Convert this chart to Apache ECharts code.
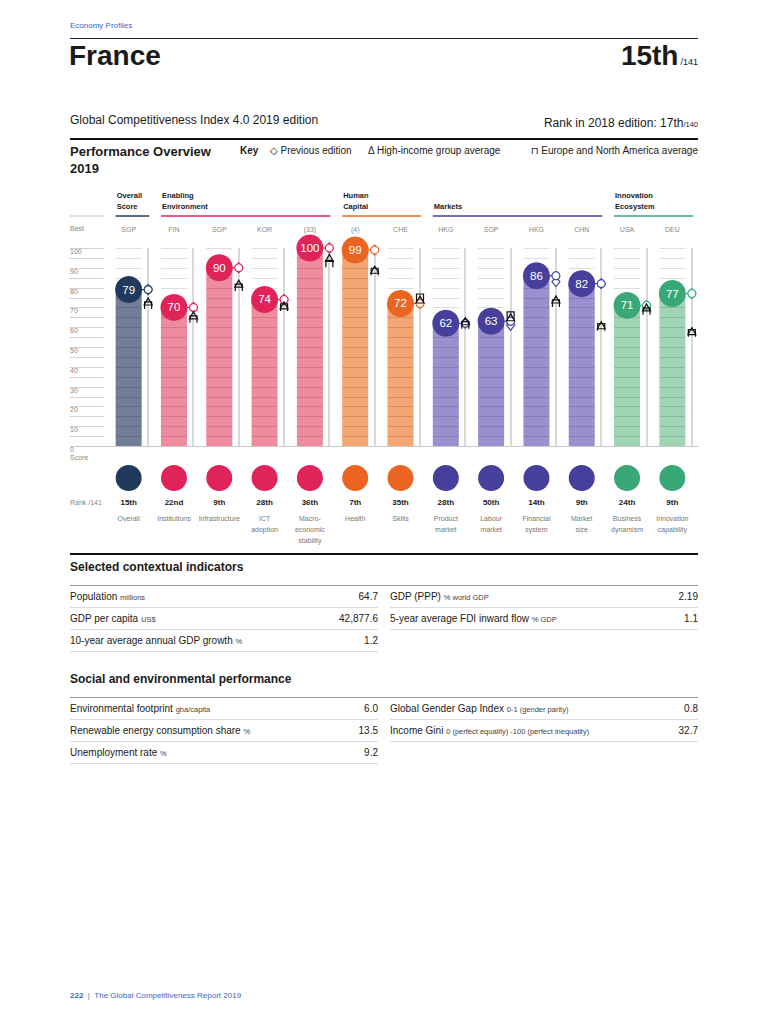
<!DOCTYPE html>
<html>
<head>
<meta charset="utf-8">
<script src="https://cdn.jsdelivr.net/npm/echarts@6/dist/echarts.min.js"></script>
<style>
  body { margin: 0; background: #fff; }
  #page { position: relative; width: 768px; height: 1024px; overflow: hidden;
          font-family: 'Liberation Sans', Arial, 'DejaVu Sans', sans-serif; color: #1a1a1a; }
  .a { position: absolute; white-space: nowrap; }
  .hr { position: absolute; left: 70px; width: 628px; }
  .small { font-size: 7px; color: #888; line-height: 8px; }
  .row { position: absolute; width: 308px; height: 21px; line-height: 21px; font-size: 10px;
         border-bottom: 1px solid #d5dde9; }
  .row .u { font-size: 7.5px; color: #444; }
  .row .v { position: absolute; right: 0; top: 0; }
</style>
</head>
<body>
<div id="page">
  <div class="a" style="left:70px;top:21px;font-size:8px;color:#3d68c2">Economy Profiles</div>
  <div class="hr" style="top:38px;height:1px;background:#222"></div>
  <div class="a" style="left:69px;top:40px;font-size:28px;font-weight:bold;line-height:32px">France</div>
  <div class="a" style="right:70px;top:40px;line-height:32px"><span style="font-size:28px;font-weight:bold">15th</span><span style="font-size:9px;margin-left:2px">/141</span></div>
  <div class="a" style="left:70px;top:113px;font-size:12px;line-height:14px">Global Competitiveness Index 4.0 2019 edition</div>
  <div class="a" style="right:70px;top:116px;font-size:12px;line-height:14px">Rank in 2018 edition: 17th<span style="font-size:7.5px">/140</span></div>
  <div class="hr" style="top:138px;height:2px;background:#111"></div>
  <div class="a" style="left:70px;top:143px;font-size:13px;font-weight:bold;line-height:17px">Performance Overview<br>2019</div>
  <div class="a" style="left:240px;top:146px;font-size:10px;line-height:10px;font-weight:bold">Key</div>
  <div class="a" style="left:270px;top:146px;font-size:10px;line-height:10px">◇ Previous edition</div>
  <div class="a" style="left:368px;top:146px;font-size:10px;line-height:10px">Δ High-income group average</div>
  <div class="a" style="right:70px;top:146px;font-size:10px;line-height:10px">⊓ Europe and North America average</div>

  <div id="chart" class="a" style="left:0;top:180px;width:768px;height:380px"></div>
  <div class="a small" style="left:70px;top:225px">Best</div>
  <div class="a small" style="left:70px;top:454px">Score</div>
  <div class="a small" style="left:70px;top:499px">Rank /141</div>

  <div class="hr" style="top:553px;height:2px;background:#111"></div>
  <div class="a" style="left:70px;top:560px;font-size:12px;font-weight:bold;line-height:14px">Selected contextual indicators</div>
  <div class="hr" style="top:585px;height:1px;background:#9a9a9a"></div>
  <div class="a" style="left:70px;top:672px;font-size:12px;font-weight:bold;line-height:14px">Social and environmental performance</div>
  <div class="hr" style="top:697px;height:1px;background:#9a9a9a"></div>

  <div class="a" style="left:70px;top:991px;font-size:8px;line-height:10px;color:#3d68c2"><b>222</b>&nbsp; | &nbsp;The Global Competitiveness Report 2019</div>
</div>

<script>
// pillars, left to right
const pillars = ['Overall', 'Institutions', 'Infrastructure', 'ICT\nadoption', 'Macro-\neconomic\nstability',
  'Health', 'Skills', 'Product\nmarket', 'Labour\nmarket', 'Financial\nsystem', 'Market\nsize',
  'Business\ndynamism', 'Innovation\ncapability'];
const bestIn = ['SGP', 'FIN', 'SGP', 'KOR', '(33)', '(4)', 'CHE', 'HKG', 'SGP', 'HKG', 'CHN', 'USA', 'DEU'];
const ranks = ['15th', '22nd', '9th', '28th', '36th', '7th', '35th', '28th', '50th', '14th', '9th', '24th', '9th'];
const pillarGroup = [0, 1, 1, 1, 1, 2, 2, 3, 3, 3, 3, 4, 4];

const score = [79, 70, 90, 74, 100, 99, 72, 62, 63, 86, 82, 71, 77];
const previous = [79, 70, 90, 74, 100, 99, 72, 62, 61, 83, 82, 71, 77];
const highIncome = [73, 66, 82, 71, 95, 89, 74, 63, 65, 74, 61, 70, 58];
const europeNA = [71, 64, 80, 70, 92, 88, 75, 61, 66, 72, 60, 68, 57];

const groupNames = ['Overall\nScore', 'Enabling\nEnvironment', 'Human\nCapital', 'Markets', 'Innovation\nEcosystem'];
const groupFirst = [0, 1, 5, 7, 11];
const groupLast = [0, 4, 6, 10, 12];
const darkColors = ['#1f3a5c', '#e0245a', '#ec6422', '#463f9b', '#3aa776'];
const barColors = ['#727e95', '#ef8b9e', '#f4a674', '#9b90cf', '#9fd5b5'];

// tables
const contextLeft = [['Population', 'millions', '64.7'], ['GDP per capita', 'US$', '42,877.6'],
  ['10-year average annual GDP growth', '%', '1.2']];
const contextRight = [['GDP (PPP)', '% world GDP', '2.19'], ['5-year average FDI inward flow', '% GDP', '1.1']];
const socialLeft = [['Environmental footprint', 'gha/capita', '6.0'], ['Renewable energy consumption share', '%', '13.5'],
  ['Unemployment rate', '%', '9.2']];
const socialRight = [['Global Gender Gap Index', '0-1 (gender parity)', '0.8'],
  ['Income Gini', '0 (perfect equality) -100 (perfect inequality)', '32.7']];

const page = document.getElementById('page');
function addRows(rows, left, top) {
  rows.forEach((r, i) => {
    const d = document.createElement('div');
    d.className = 'row';
    d.style.left = left + 'px';
    d.style.top = (top + 22 * i) + 'px';
    d.innerHTML = r[0] + ' <span class="u">' + r[1] + '</span><span class="v">' + r[2] + '</span>';
    page.appendChild(d);
  });
}
addRows(contextLeft, 70, 586);
addRows(contextRight, 390, 586);
addRows(socialLeft, 70, 698);
addRows(socialRight, 390, 698);

const FONT = '"Liberation Sans", Arial, sans-serif';
const DX = 19.5; // marker line offset from column centre

function stripes(params, api) {
  const i = api.value(0);
  const base = api.coord([i, 0]);
  const kids = [];
  for (let v = 5; v <= 100; v += 5) {
    const y = Math.round(api.coord([i, v])[1]) + 0.5;
    kids.push({ type: 'line', shape: { x1: base[0] - 13, y1: y, x2: base[0] + 13, y2: y },
      style: { stroke: 'rgba(0,0,0,0.13)', lineWidth: 1 } });
  }
  const xl = Math.round(base[0] + DX);
  kids.push({ type: 'line', shape: { x1: xl, y1: api.coord([i, 100])[1], x2: xl, y2: base[1] },
    style: { stroke: '#cdcdcd', lineWidth: 1.5 } });
  return { type: 'group', children: kids };
}

function bestColumn(params, api) {
  const x0 = api.coord([0, 0])[0];
  const xr = api.coord([pillars.length - 1, 0])[0];
  const kids = [];
  for (let v = 5; v <= 100; v += 5) {
    const y = Math.round(api.coord([0, v])[1]) + 0.5;
    kids.push({ type: 'line', shape: { x1: x0 - 59, y1: y, x2: x0 - 25, y2: y },
      style: { stroke: '#d2d2d2', lineWidth: 1 } });
  }
  const yb = Math.round(api.coord([0, 0])[1]) + 0.5;
  kids.push({ type: 'line', shape: { x1: x0 - 59, y1: yb, x2: xr + 26, y2: yb },
    style: { stroke: '#c8c8c8', lineWidth: 1 } });
  const yh = Math.round(api.coord([0, 100])[1]) - 32;
  kids.push({ type: 'line', shape: { x1: x0 - 59, y1: yh, x2: x0 - 25, y2: yh },
    style: { stroke: '#bbbbbb', lineWidth: 1 } });
  return { type: 'group', children: kids };
}

function groupHeader(params, api) {
  const g = params.dataIndex;
  const a = api.coord([groupFirst[g], 100]);
  const b = api.coord([groupLast[g], 100]);
  const y = Math.round(a[1]) - 32;
  return { type: 'group', children: [
    { type: 'line', shape: { x1: a[0] - 13, y1: y, x2: b[0] + DX + 1, y2: y },
      style: { stroke: darkColors[g], lineWidth: 1.5 } },
    { type: 'text', x: a[0] - 12, y: y - 4,
      style: { text: groupNames[g], fill: '#1a1a1a', font: 'bold 7.5px ' + FONT, lineHeight: 11,
        align: 'left', verticalAlign: 'bottom', textAlign: 'left', textVerticalAlign: 'bottom' } }
  ] };
}

function currentMark(params, api) {
  const i = api.value(0);
  const p = api.coord([i, api.value(1)]);
  const col = darkColors[pillarGroup[i]];
  return { type: 'group', children: [
    { type: 'line', shape: { x1: p[0], y1: p[1], x2: p[0] + DX - 4, y2: p[1] }, style: { stroke: col, lineWidth: 1.2 } },
    { type: 'circle', shape: { cx: p[0] + DX, cy: p[1], r: 4 }, style: { fill: '#fff', stroke: col, lineWidth: 1.2 } }
  ] };
}

const rich = {
  r: { fontSize: 8, fontWeight: 'bold', color: '#1a1a1a', lineHeight: 22, fontFamily: FONT },
  n: { fontSize: 7, color: '#777', lineHeight: 11, fontFamily: FONT }
};
darkColors.forEach((c, g) => {
  rich['d' + g] = { width: 26, height: 26, lineHeight: 26, borderRadius: 13, backgroundColor: c };
});

const chart = echarts.init(document.getElementById('chart'), null, { renderer: 'svg' });
chart.setOption({
  animation: false,
  textStyle: { fontFamily: FONT },
  grid: { left: 106, right: 73, top: 68, bottom: 114 },
  xAxis: [{
    type: 'category', data: pillars,
    axisLine: { show: false }, axisTick: { show: false },
    axisLabel: {
      interval: 0, margin: 19,
      formatter: (v, i) => '{d' + pillarGroup[i] + '|}\n{r|' + ranks[i] + '}\n{n|' + v + '}',
      rich: rich
    }
  }, {
    type: 'category', data: bestIn, position: 'top',
    axisLine: { show: false }, axisTick: { show: false },
    axisLabel: { interval: 0, margin: 15, fontSize: 7, color: '#888' }
  }],
  yAxis: {
    type: 'value', min: 0, max: 100, interval: 10,
    axisLine: { show: false }, axisTick: { show: false }, splitLine: { show: false },
    axisLabel: { align: 'left', margin: 36, fontSize: 7, color: '#888', verticalAlign: 'top' }
  },
  series: [
    { type: 'custom', silent: true, z: 1, renderItem: bestColumn, data: [[0, 0]] },
    { type: 'custom', silent: true, z: 1, renderItem: groupHeader, data: groupFirst.map(f => [f, 100]) },
    {
      type: 'bar', silent: true, z: 2, barWidth: 26,
      data: score.map((v, i) => ({ value: v, itemStyle: { color: barColors[pillarGroup[i]] } }))
    },
    { type: 'custom', silent: true, z: 3, renderItem: stripes, data: score.map((v, i) => [i, v]) },
    {
      type: 'scatter', silent: true, z: 4, symbol: 'diamond', symbolSize: [8, 10], symbolOffset: [DX, 0],
      data: previous.map((v, i) => ({ value: v, itemStyle: { color: '#fff', opacity: 1, borderColor: darkColors[pillarGroup[i]], borderWidth: 1.2 } }))
    },
    { type: 'custom', silent: true, z: 5, renderItem: currentMark, data: score.map((v, i) => [i, v]) },
    {
      type: 'scatter', silent: true, z: 6, symbol: 'triangle', symbolSize: [8, 7], symbolOffset: [DX, 0],
      itemStyle: { color: 'rgba(0,0,0,0)', opacity: 1, borderColor: '#111', borderWidth: 1.2 },
      data: highIncome
    },
    {
      type: 'scatter', silent: true, z: 6, symbol: 'path://M0,8L0,0L8,0L8,8', symbolSize: [7, 7], symbolOffset: [DX, 0],
      itemStyle: { color: 'rgba(0,0,0,0)', opacity: 1, borderColor: '#111', borderWidth: 1.2 },
      data: europeNA
    },
    {
      type: 'scatter', silent: true, z: 7, symbolSize: 27,
      data: score.map((v, i) => ({ value: v, itemStyle: { color: darkColors[pillarGroup[i]], opacity: 1 } })),
      label: { show: true, position: 'inside', color: '#fff', fontSize: 11.5, formatter: p => score[p.dataIndex] }
    }
  ]
});
</script>
</body>
</html>
